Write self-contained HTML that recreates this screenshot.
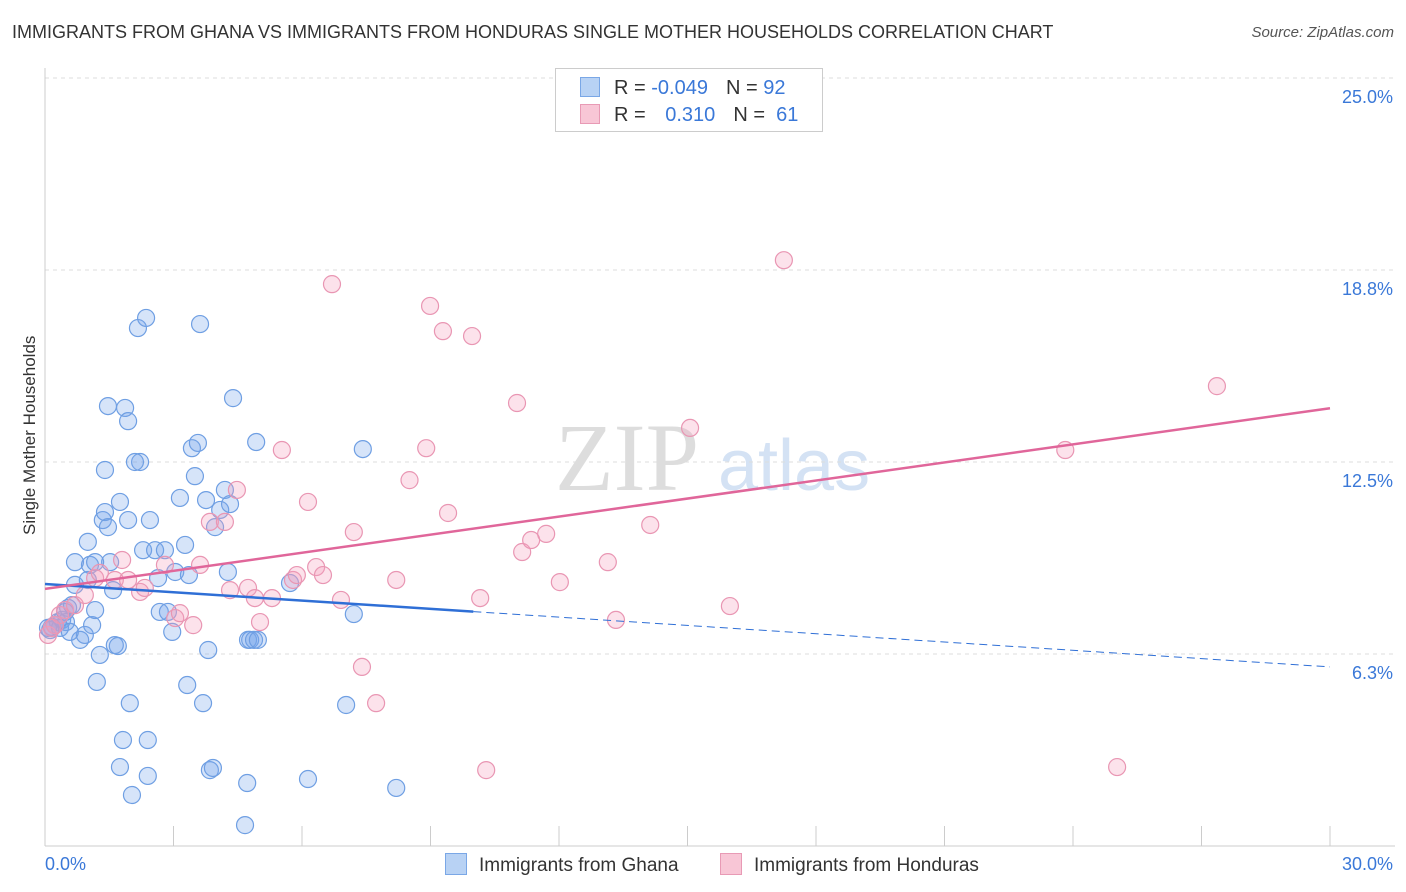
<!DOCTYPE html>
<html><head><meta charset="utf-8"><style>
body{margin:0;background:#fff;font-family:"Liberation Sans",sans-serif;}
#wrap{position:relative;width:1406px;height:892px;overflow:hidden;}
.t{position:absolute;white-space:nowrap;}
</style></head><body>
<div id="wrap">
<div class="t" style="left:12px;top:22px;font-size:18px;color:#333;">IMMIGRANTS FROM GHANA VS IMMIGRANTS FROM HONDURAS SINGLE MOTHER HOUSEHOLDS CORRELATION CHART</div>
<div class="t" style="right:12px;top:24px;font-size:15px;color:#555;font-style:italic;">Source: ZipAtlas.com</div>
<div class="t" style="left:-50px;top:445px;font-size:17px;color:#333;transform:rotate(-90deg);width:160px;text-align:center;">Single Mother Households</div>
<svg id="chart" width="1406" height="892" style="position:absolute;left:0;top:0">
<text x="555" y="490" font-size="96" font-family="Liberation Serif" fill="#ddd">ZIP</text>
<text x="718" y="490" font-size="72" font-family="Liberation Sans" fill="#d4e2f4">atlas</text>
</svg>
<div style="position:absolute;left:555px;top:68px;width:266px;height:62px;border:1px solid #ccc;background:#fff;font-size:20px;color:#333;">
<div style="position:absolute;left:24px;top:8px;"><span style="display:inline-block;width:18px;height:18px;background:#b8d2f4;border:1px solid #7aa7e6;vertical-align:-3px"></span><span style="margin-left:14px">R = </span><span style="color:#3a78d8">-0.049</span><span style="margin-left:18px">N = </span><span style="color:#3a78d8">92</span></div>
<div style="position:absolute;left:24px;top:35px;"><span style="display:inline-block;width:18px;height:18px;background:#f8c6d6;border:1px solid #e89ab5;vertical-align:-3px"></span><span style="margin-left:14px">R = </span><span style="color:#3a78d8;margin-left:14px">0.310</span><span style="margin-left:18px">N = </span><span style="color:#3a78d8">&nbsp;61</span></div>
</div>
<div class="t" style="left:445px;top:853px;font-size:19px;color:#333;"><span style="display:inline-block;width:20px;height:20px;background:#b8d2f4;border:1px solid #7aa7e6;vertical-align:-4px;margin-right:12px"></span>Immigrants from Ghana</div>
<div class="t" style="left:720px;top:853px;font-size:19px;color:#333;"><span style="display:inline-block;width:20px;height:20px;background:#f8c6d6;border:1px solid #e89ab5;vertical-align:-4px;margin-right:12px"></span>Immigrants from Honduras</div>
</div>
<script>
const ghanaX=[.16,.23,.30,.40,.47,.54,.63,.12,.07,.35,.49,.70,.82,.93,1.00,1.10,1.17,1.21,1.28,1.35,1.40,1.47,1.52,1.59,1.63,1.70,1.75,1.82,1.94,1.98,2.03,2.17,2.22,2.29,2.36,2.40,2.45,2.57,2.64,2.68,2.80,2.87,2.97,3.04,3.15,3.27,3.32,3.36,3.43,3.50,3.57,3.62,3.69,3.76,3.81,3.85,3.92,3.97,4.09,4.20,4.27,4.32,4.39,4.67,4.74,4.79,4.88,4.93,4.97,4.72,5.72,6.14,7.03,7.21,7.42,8.20,1.47,1.87,1.94,1.40,2.10,2.40,1.75,.70,1.00,1.05,.58,1.17];
const ghanaY=[7.13,7.19,7.29,7.36,7.62,7.75,7.84,7.03,7.10,7.10,7.29,8.50,6.71,6.87,8.66,7.19,7.68,5.34,6.22,10.61,10.87,10.38,9.24,8.33,6.54,6.51,11.20,3.45,10.61,4.65,1.66,16.86,12.50,9.63,17.19,2.28,10.61,9.63,8.72,7.62,9.63,7.62,6.97,8.92,11.33,9.80,5.24,8.82,12.95,12.04,13.12,16.99,4.65,11.26,6.38,2.47,2.54,10.38,10.94,11.59,8.92,11.13,14.58,0.68,6.71,6.71,6.71,13.15,6.71,2.05,8.56,2.18,4.59,7.55,12.92,1.89,14.32,14.26,13.83,12.24,12.50,3.45,2.57,9.24,9.90,9.15,6.97,9.24];
const hondX=[.07,.23,.35,.47,.70,.93,1.17,1.28,1.63,1.80,1.94,2.22,2.33,2.80,3.04,3.15,3.46,3.62,3.85,4.20,4.32,4.48,4.74,4.90,5.02,5.30,5.53,5.79,5.88,6.14,6.33,6.49,6.70,6.91,7.21,7.40,7.73,8.20,8.51,8.90,8.99,9.29,9.41,9.97,10.16,10.30,11.02,11.14,11.35,11.70,12.02,13.14,13.33,14.13,15.06,15.99,17.25,23.82,25.03,27.36,.16];
const hondY=[6.87,7.19,7.52,7.68,7.84,8.17,8.72,8.89,8.66,9.31,8.66,8.27,8.40,9.15,7.42,7.58,7.19,9.15,10.55,10.55,8.33,11.59,8.40,8.07,7.29,8.07,12.89,8.66,8.82,11.20,9.08,8.82,18.29,8.01,10.22,5.83,4.65,8.66,11.91,12.95,17.58,16.76,10.84,16.60,8.07,2.47,14.42,9.57,9.96,10.16,8.59,9.24,7.36,10.45,13.61,7.81,19.07,12.89,2.57,14.97,7.10];
const yTicks=[25.0,18.8,12.5,6.3];
const yTickVals=[25,18.75,12.5,6.25];
const xTickLabels=["0.0%","30.0%"];
const ghanaTrend=[8.53,-0.09];
const hondTrend=[8.37,0.196];
const X0=45,X1=1330,YB=846;
const sx=v=>X0+v*(X1-X0)/30;
const sy=v=>YB-v*30.72;
const svg=document.getElementById('chart');
const NS='http://www.w3.org/2000/svg';
function mk(tag,attrs){const e=document.createElementNS(NS,tag);for(const k in attrs)e.setAttribute(k,attrs[k]);svg.appendChild(e);return e;}
yTickVals.forEach((v,i)=>{
 const g=mk('line',{x1:X0,x2:1395,y1:sy(v),y2:sy(v),stroke:'#ddd','stroke-dasharray':'4,4'});
 
 
 const t=mk('text',{x:1393,y:sy(v)+25,'text-anchor':'end','font-size':18,fill:'#3a78d8'});
 t.textContent=yTicks[i].toFixed(1)+'%';
 
 
});
const ax=mk('line',{x1:X0,x2:X0,y1:68,y2:YB,stroke:'#ccc'});


const bx=mk('line',{x1:X0,x2:1395,y1:YB,y2:YB,stroke:'#ccc'});


for(let i=1;i<=10;i++){const tk=mk('line',{x1:sx(i*3),x2:sx(i*3),y1:826,y2:YB,stroke:'#ccc'});
 
 }
[[0,'start',45],[30,'end',1393]].forEach((d,i)=>{const t=mk('text',{x:d[2],y:870,'text-anchor':d[1],'font-size':18,fill:'#3a78d8'});t.textContent=xTickLabels[i];
 
 });
function dots(xs,ys,fill,stroke,name){xs.forEach((x,i)=>{const c=mk('circle',{cx:sx(x),cy:sy(ys[i]),r:8.5,fill:fill,stroke:stroke,'stroke-width':1.2});
 
 });}
dots(ghanaX,ghanaY,'rgba(120,165,235,0.3)','#6f9fe3','ghana-point');
dots(hondX,hondY,'rgba(245,160,190,0.3)','#e996b3','honduras-point');
const l1=mk('line',{x1:sx(0),y1:sy(ghanaTrend[0]),x2:sx(10),y2:sy(ghanaTrend[0]+10*ghanaTrend[1]),stroke:'#2f6fd6','stroke-width':2.5});


const l2=mk('line',{x1:sx(10),y1:sy(ghanaTrend[0]+10*ghanaTrend[1]),x2:sx(30),y2:sy(ghanaTrend[0]+30*ghanaTrend[1]),stroke:'#2f6fd6','stroke-width':1,'stroke-dasharray':'8,5'});


const l3=mk('line',{x1:sx(0),y1:sy(hondTrend[0]),x2:sx(30),y2:sy(hondTrend[0]+30*hondTrend[1]),stroke:'#e0669a','stroke-width':2.5});


</script>
</body></html>
